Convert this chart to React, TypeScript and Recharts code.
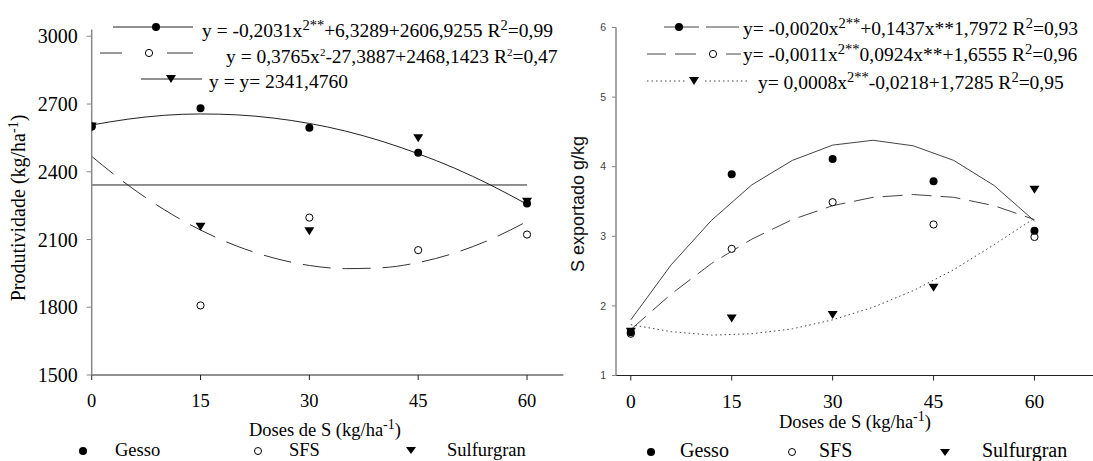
import React from 'react';
import { ComposedChart, Line, Scatter, XAxis, YAxis } from 'recharts';

// ---------- data ----------
const doses = [0, 15, 30, 45, 60];
const doseTicks = [0, 15, 30, 45, 60];

// Produtividade (kg/ha)
const prodGesso = [2600, 2681, 2595, 2484, 2260];
const prodSFS = [2600, 1808, 2197, 2053, 2122];
const prodSulf = [2600, 2156, 2137, 2548, 2267];
const prodTicks = [1500, 1800, 2100, 2400, 2700, 3000];

const fitDosesL = [0, 5, 10, 15, 20, 25, 30, 35, 40, 45, 50, 55, 60];
const prodGessoFit = [2607, 2633, 2650, 2656, 2652, 2638, 2614, 2580, 2535, 2480, 2416, 2341, 2256];
const prodSFSFit = [2468, 2341, 2232, 2142, 2071, 2019, 1985, 1971, 1975, 1998, 2040, 2101, 2180];
const sulfMeanDoses = [0, 60];
const prodSulfMean = [2341.5, 2341.5];

// S exportado (g/kg)
const sGesso = [1.62, 3.89, 4.11, 3.79, 3.08];
const sSFS = [1.6, 2.82, 3.49, 3.17, 2.99];
const sSulf = [1.63, 1.82, 1.87, 2.26, 3.67];
const sTicks = [1, 2, 3, 4, 5, 6];

const fitDosesR = [0, 6, 12, 18, 24, 30, 36, 42, 48, 54, 60];
const sGessoFit = [1.8, 2.59, 3.23, 3.74, 4.09, 4.31, 4.38, 4.3, 4.09, 3.73, 3.22];
const sSFSFit = [1.66, 2.17, 2.61, 2.96, 3.24, 3.44, 3.56, 3.6, 3.56, 3.44, 3.24];
const sSulfFit = [1.73, 1.63, 1.58, 1.6, 1.67, 1.8, 1.98, 2.22, 2.52, 2.88, 3.26];

// legend texts: [text, superscript?]
const eqGessoL: [string, boolean][] = [['y = -0,2031x', false], ['2**', true], ['+6,3289+2606,9255 R', false], ['2', true], ['=0,99', false]];
const eqSFSL: [string, boolean][] = [['y = 0,3765x', false], ['2', true], ['-27,3887+2468,1423 R', false], ['2', true], ['=0,47', false]];
const eqSulfL: [string, boolean][] = [['y = y= 2341,4760', false]];
const eqGessoR: [string, boolean][] = [['y= -0,0020x', false], ['2**', true], ['+0,1437x**1,7972 R', false], ['2', true], ['=0,93', false]];
const eqSFSR: [string, boolean][] = [['y= -0,0011x', false], ['2**', true], ['0,0924x**+1,6555 R', false], ['2', true], ['=0,96', false]];
const eqSulfR: [string, boolean][] = [['y= 0,0008x', false], ['2**', true], ['-0,0218+1,7285 R', false], ['2', true], ['=0,95', false]];
const xTitle: [string, boolean][] = [['Doses de S (kg/ha', false], ['-1', true], [')', false]];
const yTitleL: [string, boolean][] = [['Produtividade (kg/ha', false], ['-1', true], [')', false]];
const yTitleR = 'S exportado g/kg';
const legendNames = ['Gesso', 'SFS', 'Sulfurgran'];

const pts = (xs: number[], ys: number[]) => xs.map((x, i) => ({ x, y: ys[i] }));

const SERIF = 'Liberation Serif';
const SANS = 'Liberation Sans';

// ---------- shapes ----------
const FilledDot = (p: any) => <circle cx={p.cx} cy={p.cy} r={4} fill="#000" />;
const OpenDot = (p: any) => <circle cx={p.cx} cy={p.cy} r={3.6} fill="#fff" stroke="#000" strokeWidth={1} />;
const Tri = (p: any) => (
  <polygon points={`${p.cx - 5},${p.cy - 4} ${p.cx + 5},${p.cy - 4} ${p.cx},${p.cy + 4}`} fill="#000" />
);

const Rich = ({ segs, x, y, size = 19.5, supSize = 14.5, rise = 7, transform, anchor, family = SERIF }: any) => {
  let shift = 0;
  return (
    <text x={x} y={y} transform={transform} textAnchor={anchor} style={{ fontFamily: family, fontSize: size }} fill="#000">
      {segs.map(([t, sup]: [string, boolean], i: number) => {
        let dy = 0;
        if (sup && shift === 0) { dy = -rise; shift = -rise; }
        else if (!sup && shift !== 0) { dy = rise; shift = 0; }
        return (
          <tspan key={i} dy={dy} style={{ fontSize: sup ? supSize : size }}>{t}</tspan>
        );
      })}
    </text>
  );
};

export default function App() {
  return (
    <div style={{ position: 'absolute', left: 0, top: 0, width: 1093, height: 461, background: '#fff', overflow: 'hidden', fontFamily: SERIF }}>
      {/* Left chart */}
      <div style={{ position: 'absolute', left: 0, top: 0 }}>
        <ComposedChart width={600} height={461} margin={{ top: 29.5, right: 36.7, left: 31.7, bottom: 46 }}>
          <XAxis
            dataKey="x" type="number" domain={[0, 65]} ticks={doseTicks} allowDataOverflow height={40}
            tickSize={5} tickMargin={14}
            axisLine={{ stroke: '#222', strokeWidth: 1 }} tickLine={{ stroke: '#222' }}
            tick={{ fontFamily: SERIF, fontSize: 18.5, fill: '#000' }}
          />
          <YAxis
            dataKey="y" type="number" domain={[1500, 3030]} ticks={prodTicks} allowDataOverflow width={60}
            tickSize={5} tickMargin={9}
            axisLine={{ stroke: '#888', strokeWidth: 1.5 }} tickLine={{ stroke: '#888' }}
            tick={{ fontFamily: SERIF, fontSize: 20, fill: '#000' }}
          />
          <Line data={pts(fitDosesL, prodGessoFit)} dataKey="y" type="monotone" stroke="#222" strokeWidth={1} dot={false} isAnimationActive={false} />
          <Line data={pts(fitDosesL, prodSFSFit)} dataKey="y" type="monotone" stroke="#333" strokeWidth={1} strokeDasharray="28 12" dot={false} isAnimationActive={false} />
          <Line data={pts(sulfMeanDoses, prodSulfMean)} dataKey="y" type="linear" stroke="#222" strokeWidth={1} dot={false} isAnimationActive={false} />
          <Scatter data={pts(doses, prodSulf)} shape={Tri} isAnimationActive={false} />
          <Scatter data={pts(doses, prodSFS)} shape={OpenDot} isAnimationActive={false} />
          <Scatter data={pts(doses, prodGesso)} shape={FilledDot} isAnimationActive={false} />
        </ComposedChart>
      </div>

      {/* Right chart */}
      <div style={{ position: 'absolute', left: 546, top: 0 }}>
        <ComposedChart width={547} height={461} margin={{ top: 27.5, right: 0, left: 20, bottom: 45.5 }}>
          <XAxis
            dataKey="x" type="number" domain={[-2.2, 68.7]} ticks={doseTicks} allowDataOverflow height={40}
            tickSize={5} tickMargin={14}
            axisLine={{ stroke: '#222', strokeWidth: 1 }} tickLine={{ stroke: '#222' }}
            tick={{ fontFamily: SERIF, fontSize: 19.5, fill: '#000' }}
          />
          <YAxis
            dataKey="y" type="number" domain={[1, 6]} ticks={sTicks} allowDataOverflow width={50}
            tickSize={4} tickMargin={6}
            axisLine={{ stroke: '#888', strokeWidth: 1.5 }} tickLine={{ stroke: '#888' }}
            tick={{ fontFamily: SANS, fontSize: 10.5, fill: '#444' }}
          />
          <Line data={pts(fitDosesR, sGessoFit)} dataKey="y" type="linear" stroke="#444" strokeWidth={1} dot={false} isAnimationActive={false} />
          <Line data={pts(fitDosesR, sSFSFit)} dataKey="y" type="linear" stroke="#444" strokeWidth={1} strokeDasharray="20 9" dot={false} isAnimationActive={false} />
          <Line data={pts(fitDosesR, sSulfFit)} dataKey="y" type="linear" stroke="#444" strokeWidth={1} strokeDasharray="1.5 3" dot={false} isAnimationActive={false} />
          <Scatter data={pts(doses, sSulf)} shape={Tri} isAnimationActive={false} />
          <Scatter data={pts(doses, sSFS)} shape={OpenDot} isAnimationActive={false} />
          <Scatter data={pts(doses, sGesso)} shape={FilledDot} isAnimationActive={false} />
        </ComposedChart>
      </div>

      {/* Overlay: legends and axis titles */}
      <svg width={1093} height={461} style={{ position: 'absolute', left: 0, top: 0, pointerEvents: 'none' }}>
        {/* Left top legend */}
        <line x1={113} y1={27} x2={193} y2={27} stroke="#222" strokeWidth={1} />
        <circle cx={156} cy={27} r={4} fill="#000" />
        <Rich segs={eqGessoL} x={202} y={37} />

        <line x1={100} y1={53} x2={122} y2={53} stroke="#333" strokeWidth={1} />
        <line x1={167} y1={53} x2={193} y2={53} stroke="#333" strokeWidth={1} />
        <circle cx={149} cy={53} r={3.6} fill="#fff" stroke="#000" strokeWidth={1} />
        <Rich segs={eqSFSL} x={226} y={63} supSize={11} />

        <line x1={141} y1={79} x2={202} y2={79} stroke="#222" strokeWidth={1} />
        <polygon points="166,75 176,75 171,83" fill="#000" />
        <Rich segs={eqSulfL} x={209} y={88} />

        {/* Right top legend */}
        <line x1={664} y1={27} x2={699} y2={27} stroke="#444" strokeWidth={1} />
        <line x1={706} y1={27} x2={739} y2={27} stroke="#444" strokeWidth={1} />
        <circle cx={679} cy={27} r={4} fill="#000" />
        <Rich segs={eqGessoR} x={743} y={35} />

        <line x1={647} y1={54} x2={666} y2={54} stroke="#444" strokeWidth={1} />
        <line x1={675} y1={54} x2={696} y2={54} stroke="#444" strokeWidth={1} />
        <line x1={726} y1={54} x2={741} y2={54} stroke="#444" strokeWidth={1} />
        <circle cx={713} cy={54} r={3.6} fill="#fff" stroke="#000" strokeWidth={1} />
        <Rich segs={eqSFSR} x={743} y={61} />

        <line x1={647} y1={81} x2={685} y2={81} stroke="#444" strokeWidth={1} strokeDasharray="1.5 3" />
        <line x1={705} y1={81} x2={748} y2={81} stroke="#444" strokeWidth={1} strokeDasharray="1.5 3" />
        <polygon points="689,77 699,77 694,85" fill="#000" />
        <Rich segs={eqSulfR} x={758} y={89} />

        {/* X axis titles */}
        <Rich segs={xTitle} x={249} y={436} size={18.5} supSize={14} />
        <Rich segs={xTitle} x={779} y={428} size={18.5} supSize={14} />

        {/* Y axis titles */}
        <Rich segs={yTitleL} x={0} y={0} transform="translate(25,208) rotate(-90)" anchor="middle" size={20} supSize={14} />
        <text transform="translate(584,204) rotate(-90)" textAnchor="middle" style={{ fontFamily: SANS, fontSize: 18 }} fill="#111">
          {yTitleR}
        </text>

        {/* Bottom legends left */}
        <circle cx={83} cy={451} r={4} fill="#000" />
        <text x={115} y={456} style={{ fontFamily: SERIF, fontSize: 18.5 }}>{legendNames[0]}</text>
        <circle cx={258} cy={451} r={3.5} fill="#fff" stroke="#000" strokeWidth={1} />
        <text x={289} y={456} style={{ fontFamily: SERIF, fontSize: 18.5 }}>{legendNames[1]}</text>
        <polygon points="406,447 416,447 411,454" fill="#000" />
        <text x={447} y={456} style={{ fontFamily: SERIF, fontSize: 18.5 }}>{legendNames[2]}</text>

        {/* Bottom legends right */}
        <circle cx={651} cy={452} r={4} fill="#000" />
        <text x={680} y={457} style={{ fontFamily: SERIF, fontSize: 20 }}>{legendNames[0]}</text>
        <circle cx={792} cy={452} r={3.5} fill="#fff" stroke="#000" strokeWidth={1} />
        <text x={819} y={457} style={{ fontFamily: SERIF, fontSize: 20 }}>{legendNames[1]}</text>
        <polygon points="940,449 950,449 945,456" fill="#000" />
        <text x={982} y={457} style={{ fontFamily: SERIF, fontSize: 20 }}>{legendNames[2]}</text>
      </svg>
    </div>
  );
}
